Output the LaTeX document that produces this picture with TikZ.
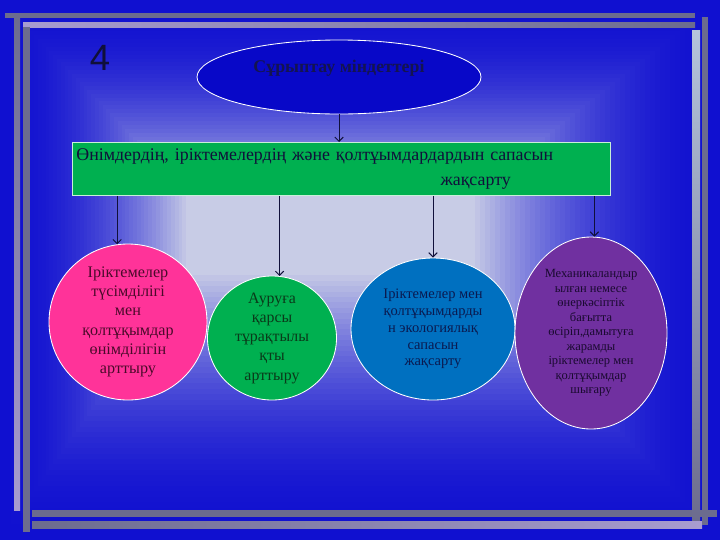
\documentclass[tikz,border=0pt]{standalone}
\usepackage{fontspec}
\setmainfont{Liberation Serif}
\newfontfamily\digitfont{Liberation Sans}
\usetikzlibrary{arrows.meta,shapes.geometric}
\definecolor{bgouter}{HTML}{1010D0}
\definecolor{bginner}{HTML}{C8CCE6}
\definecolor{framegrey}{HTML}{6C6C8E}
\definecolor{framelilac}{HTML}{A89CD0}
\definecolor{framepale}{HTML}{B4C4DC}
\definecolor{ink}{HTML}{10103A}
\definecolor{capblue}{HTML}{0808C8}
\definecolor{capink}{HTML}{141450}
\definecolor{boxgreen}{HTML}{00B050}
\definecolor{boxedge}{HTML}{C8F0D8}
\definecolor{pinkfill}{HTML}{FF3399}
\definecolor{pinkink}{HTML}{4A0A2A}
\definecolor{greenink}{HTML}{0A3A1A}
\definecolor{bluefill}{HTML}{0070C0}
\definecolor{blueink}{HTML}{0A1A50}
\definecolor{violetfill}{HTML}{7030A0}
\definecolor{violetink}{HTML}{1A0A30}
\newcommand\pxu{0.025cm}

\begin{document}
\begin{tikzpicture}[x=\pxu,y=-\pxu,
  bubble/.style={ellipse,draw=white,line width=0.6pt,inner sep=-6pt,align=center},
  flow/.style={-{Straight Barb[length=3pt,width=6pt]},draw=ink,line width=0.7pt}]
  \useasboundingbox (0,0) rectangle (720,540);
  \foreach \i in {0,...,49}{
    \pgfmathsetmacro\p{100*(\i/49)^2}
    \fill[bginner!\p!bgouter] (\i*3.8,\i*3.9) rectangle (720-\i*5,540-\i*5.4);}
  \fill[framegrey] (5,13) rectangle (695,18);
  \shade[left color=framelilac,right color=framegrey] (23,22) rectangle (695,27);
  \shade[top color=framegrey,bottom color=framelilac] (14,18) rectangle (20,510);
  \fill[framegrey] (23,27) rectangle (30,532);
  \fill[framegrey] (32,510) rectangle (717,517);
  \shade[left color=framegrey,right color=framelilac] (32,521) rectangle (702,528);
  \shade[top color=framepale,bottom color=framegrey] (692,30) rectangle (700,520);
  \fill[framegrey] (702,17) rectangle (708,525);
  \node[font=\digitfont\fontsize{26}{30}\selectfont,text=ink] (num) at (100,58) {4};
  \node[bubble,fill=capblue,minimum width=284*\pxu,minimum height=74*\pxu] (title) at (339,77) {};
  \node[text=capink,font=\bfseries\fontsize{12.7}{15}\selectfont] (titletext) at ([yshift=9*\pxu]title.center) {Сұрыптау міндеттері};
  \node[draw=boxedge,fill=boxgreen,line width=0.6pt,anchor=north west,text width=13.25cm,align=left,
    inner xsep=4*\pxu,minimum height=53*\pxu,font=\fontsize{12.7}{17.7}\selectfont,text=ink] (box) at (72,142)
    {Өнімдердің, іріктемелердің және қолтұымдардардын сапасын\\\hspace*{9.1cm}жақсарту};
  \node[bubble,fill=pinkfill,minimum width=158*\pxu,minimum height=156*\pxu,text=pinkink,
    font=\fontsize{11.5}{13.7}\selectfont] (pink) at (128,322)
    {Іріктемелер\\түсімділігі\\мен\\қолтұқымдар\\өнімділігін\\арттыру};
  \node[bubble,fill=boxgreen,minimum width=129*\pxu,minimum height=124*\pxu,text=greenink,
    font=\fontsize{11.3}{13.7}\selectfont] (green) at (272,338)
    {Ауруға\\қарсы\\тұрақтылы\\қты\\арттыру};
  \node[bubble,fill=bluefill,minimum width=164*\pxu,minimum height=142*\pxu,text=blueink,
    font=\fontsize{10.3}{12}\selectfont] (blue) at (433,329)
    {Іріктемелер мен\\қолтұқымдарды\\н экологиялық\\сапасын\\жақсарту};
  \node[bubble,fill=violetfill,minimum width=152*\pxu,minimum height=192*\pxu,text=violetink,
    font=\fontsize{8.9}{10.3}\selectfont] (violet) at (591,333)
    {Механикаландыр\\ылған немесе\\өнеркәсіптік\\бағытта\\өсіріп,дамытуға\\жарамды\\іріктемелер мен\\қолтұқымдар\\шығару};
  \draw[flow] (title.south) -- (title.south |- box.north);
  \draw[flow] (box.south -| pink.98) -- (pink.98);
  \draw[flow] (box.south -| green.83) -- (green.83);
  \draw[flow] (box.south -| blue.90) -- (blue.90);
  \draw[flow] (box.south -| violet.88) -- (violet.88);
\end{tikzpicture}
\end{document}
